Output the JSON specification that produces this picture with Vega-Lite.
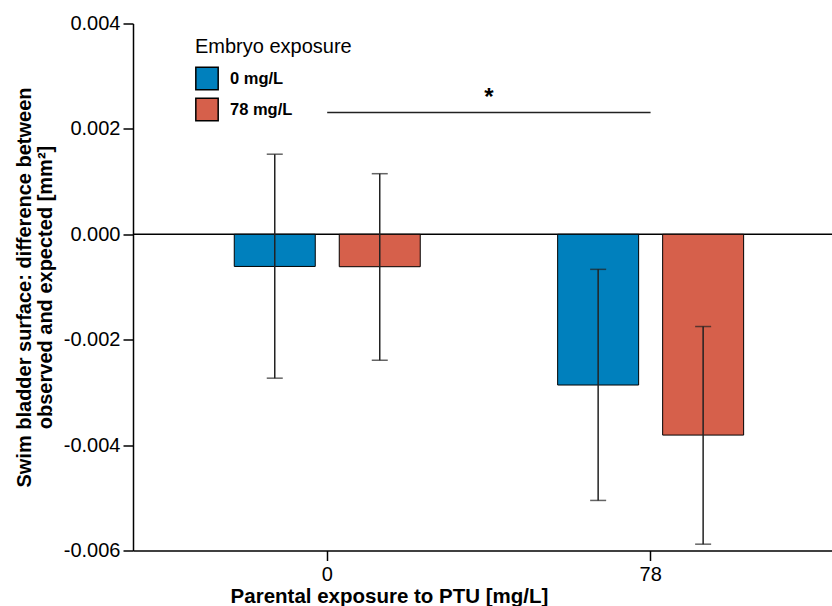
{
  "$schema": "https://vega.github.io/schema/vega-lite/v6.json",
  "autosize": {"type": "none"},
  "width": 699,
  "height": 527,
  "padding": {"left": 133, "top": 23.5, "right": 0, "bottom": 55.5},
  "background": "white",
  "config": {
    "font": "Liberation Sans",
    "view": {"stroke": null},
    "axis": {"grid": false, "domainColor": "black", "tickColor": "black", "labelColor": "black", "titleColor": "black", "domainWidth": 1.5, "tickWidth": 1.5}
  },
  "datasets": {
    "bars": [
      {"parental": "0", "embryo": "0 mg/L", "mean": -0.00061, "lo": -0.00273, "hi": 0.00152},
      {"parental": "0", "embryo": "78 mg/L", "mean": -0.000615, "lo": -0.00239, "hi": 0.00115},
      {"parental": "78", "embryo": "0 mg/L", "mean": -0.00286, "lo": -0.00505, "hi": -0.000665},
      {"parental": "78", "embryo": "78 mg/L", "mean": -0.00381, "lo": -0.00588, "hi": -0.00175}
    ],
    "sig": [{"x1": 0, "x2": 78, "xm": 39, "y": 0.00231, "ys": 0.00245, "label": "*"}]
  },
  "resolve": {"scale": {"x": "independent"}},
  "layer": [
    {
      "data": {"name": "bars"},
      "encoding": {
        "x": {
          "field": "parental", "type": "nominal", "sort": ["0", "78"],
          "scale": {"domain": ["0", "78"], "paddingInner": 0.4249, "paddingOuter": 0.2932, "align": 0.534},
          "axis": {"title": "Parental exposure to PTU [mg/L]", "labelAngle": 0, "labelFontSize": 20, "labelPadding": 4, "tickSize": 10, "titleFontSize": 20.5, "titleFontWeight": "bold", "titlePadding": 2, "titleX": 256, "titleAlign": "center", "titleAnchor": null}
        },
        "xOffset": {"field": "embryo", "type": "nominal", "scale": {"domain": ["0 mg/L", "78 mg/L"], "paddingInner": 0.2286, "paddingOuter": 0}}
      },
      "layer": [
        {
          "data": {"values": [{"z": 0}]},
          "mark": {"type": "rule", "color": "black", "strokeWidth": 1.5},
          "encoding": {
            "x": null, "xOffset": null,
            "y": {"field": "z", "type": "quantitative"}
          }
        },
        {
          "mark": {"type": "bar", "stroke": "black", "strokeWidth": 1},
          "encoding": {
            "y": {
              "field": "mean", "type": "quantitative",
              "scale": {"domain": [-0.006, 0.004], "nice": false, "zero": false},
              "axis": {
                "values": [-0.006, -0.004, -0.002, 0, 0.002, 0.004],
                "format": ".3f",
                "labelExpr": "replace(datum.label, '\u2212', '-')",
                "labelFontSize": 20, "tickSize": 10, "labelPadding": 3,
                "title": ["Swim bladder surface: difference between", "observed and expected [mm²]"],
                "titleFontSize": 20, "titleFontWeight": "bold", "titleLineHeight": 21, "titlePadding": 8
              }
            },
            "fill": {
              "field": "embryo", "type": "nominal",
              "scale": {"domain": ["0 mg/L", "78 mg/L"], "range": ["#0080BD", "#D6604B"]},
              "legend": {
                "title": "Embryo exposure", "orient": "none", "legendX": 62, "legendY": 13,
                "titleFontSize": 20, "titleFontWeight": "normal", "titlePadding": 10,
                "labelFontSize": 16.5, "labelFontWeight": "bold", "labelOffset": 11,
                "symbolType": "square", "symbolSize": 500, "symbolStrokeColor": "black", "symbolStrokeWidth": 1.5,
                "rowPadding": 1
              }
            }
          }
        },
        {
          "mark": {"type": "rule", "color": "#222222", "strokeWidth": 1.5},
          "encoding": {
            "y": {"field": "lo", "type": "quantitative"},
            "y2": {"field": "hi"}
          }
        },
        {
          "mark": {"type": "tick", "color": "#222222", "thickness": 1.5, "size": 16, "orient": "horizontal"},
          "encoding": {"y": {"field": "lo", "type": "quantitative"}}
        },
        {
          "mark": {"type": "tick", "color": "#222222", "thickness": 1.5, "size": 16, "orient": "horizontal"},
          "encoding": {"y": {"field": "hi", "type": "quantitative"}}
        }
      ]
    },
    {
      "data": {"name": "sig"},
      "layer": [
        {
          "mark": {"type": "rule", "color": "#222222", "strokeWidth": 1.5},
          "encoding": {
            "x": {"field": "x1", "type": "quantitative", "scale": {"domain": [-46.84, 121.76], "nice": false, "zero": false}, "axis": null},
            "x2": {"field": "x2"},
            "y": {"field": "y", "type": "quantitative"}
          }
        },
        {
          "mark": {"type": "text", "fontSize": 24, "fontWeight": "bold", "baseline": "alphabetic", "align": "center", "color": "black"},
          "encoding": {
            "x": {"field": "xm", "type": "quantitative", "scale": {"domain": [-46.84, 121.76], "nice": false, "zero": false}, "axis": null},
            "y": {"field": "ys", "type": "quantitative"},
            "text": {"field": "label"}
          }
        }
      ]
    }
  ]
}
